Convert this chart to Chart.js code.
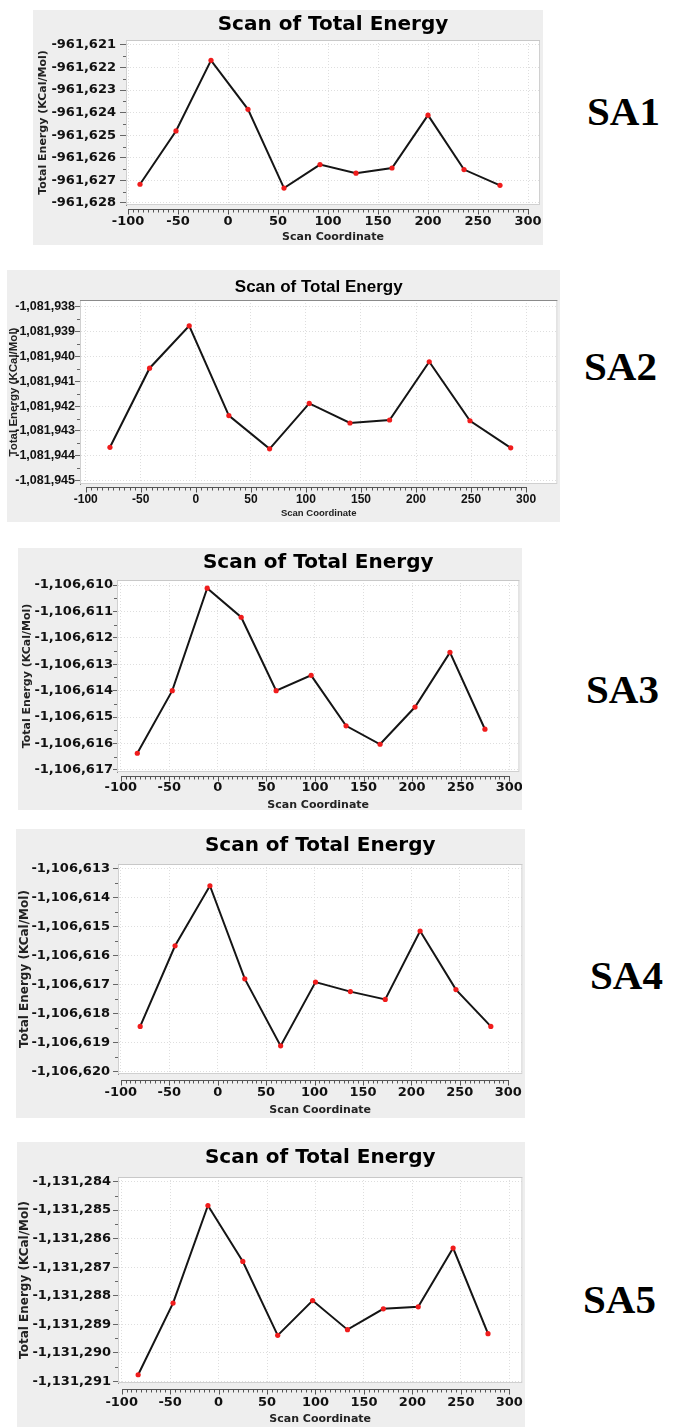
<!DOCTYPE html>
<html>
<head>
<meta charset="utf-8">
<script src="https://cdn.jsdelivr.net/npm/chart.js@4.4.1/dist/chart.umd.min.js"></script>
<style>
  html, body { margin: 0; padding: 0; background: #ffffff; }
  #page { position: relative; width: 681px; height: 1427px; overflow: hidden; background: #ffffff; }
  .panel { position: absolute; background: #eeeeee; }
  .panel canvas { display: block; }
  .tag { position: absolute; font: bold 41px "Liberation Serif", "Times New Roman", serif; line-height: 41px; color: #000; white-space: nowrap; }
</style>
</head>
<body>
<div id="page"></div>
<script>
// ---- Scan data: scan coordinate (deg) and total energy (kcal/mol) per molecule ----
const sa1Scan   = [-88, -52, -17, 20, 56, 92, 128, 164, 200, 236, 272];
const sa1Energy = [-961627.17, -961624.81, -961621.68, -961623.85, -961627.34, -961626.30,
                   -961626.68, -961626.45, -961624.11, -961626.52, -961627.22];

const sa2Scan   = [-78, -42, -6, 30, 67, 103, 140, 176, 212, 249, 286];
const sa2Energy = [-1081943.66, -1081940.47, -1081938.76, -1081942.38, -1081943.72, -1081941.89,
                   -1081942.68, -1081942.56, -1081940.21, -1081942.59, -1081943.68];

const sa3Scan   = [-83, -47, -11, 24, 60, 96, 132, 167, 203, 239, 275];
const sa3Energy = [-1106616.37, -1106614.00, -1106610.12, -1106611.22, -1106614.00, -1106613.42,
                   -1106615.33, -1106616.03, -1106614.62, -1106612.55, -1106615.46];

const sa4Scan   = [-80, -44, -8, 28, 65, 101, 137, 173, 209, 246, 282];
const sa4Energy = [-1106618.45, -1106615.67, -1106613.60, -1106616.81, -1106619.12, -1106616.92,
                   -1106617.25, -1106617.52, -1106615.16, -1106617.18, -1106618.45];

const sa5Scan   = [-83, -47, -11, 25, 61, 97, 133, 170, 206, 242, 278];
const sa5Energy = [-1131290.77, -1131288.26, -1131284.84, -1131286.80, -1131289.39, -1131288.17,
                   -1131289.19, -1131288.46, -1131288.39, -1131286.33, -1131289.33];

// ---- Tick labels ----
const xTickValues = [-100, -50, 0, 50, 100, 150, 200, 250, 300];
const xMinorStep = 5;
const sa1YTicks = [-961628, -961627, -961626, -961625, -961624, -961623, -961622, -961621];
const sa2YTicks = [-1081945, -1081944, -1081943, -1081942, -1081941, -1081940, -1081939, -1081938];
const sa3YTicks = [-1106617, -1106616, -1106615, -1106614, -1106613, -1106612, -1106611, -1106610];
const sa4YTicks = [-1106620, -1106619, -1106618, -1106617, -1106616, -1106615, -1106614, -1106613];
const sa5YTicks = [-1131291, -1131290, -1131289, -1131288, -1131287, -1131286, -1131285, -1131284];

const chartTitle = 'Scan of Total Energy';
const xAxisTitle = 'Scan Coordinate';
const yAxisTitle = 'Total Energy (KCal/Mol)';

// ---- Panel layout (page pixels) ----
const vera = '"DejaVu Sans", Verdana, sans-serif';
const arial = '"Liberation Sans", Arial, sans-serif';
const panels = [
  { tag: 'SA1', scan: sa1Scan, energy: sa1Energy, yTicks: sa1YTicks,
    box: [33, 10, 543, 245], plot: [126, 40, 540, 205], xRange: [-102, 312], yRange: [-961628.09, -961620.78],
    titleY: 25, xLineY: 209, xLabelY: 222, xTitleY: 237, yLabelRight: 116, yTitleX: 43, tickLen: 6,
    tagPos: [587, 91], family: vera, fs: { title: 20, xTick: 13, yTick: 13, xTitle: 11, yTitle: 11 }, topRule: '#c8c8c8' },
  { tag: 'SA2', scan: sa2Scan, energy: sa2Energy, yTicks: sa2YTicks,
    box: [7, 270, 560, 522], plot: [80, 300, 560, 484], xRange: [-105.2, 328.4], yRange: [-1081945.14, -1081937.72],
    titleY: 287, xLineY: 487, xLabelY: 500, xTitleY: 513, yLabelRight: 75, yTitleX: 14, tickLen: 5,
    tagPos: [584, 346], family: arial, fs: { title: 17, xTick: 12, yTick: 12.5, xTitle: 9.5, yTitle: 11.5 }, topRule: '#8a8a8a' },
  { tag: 'SA3', scan: sa3Scan, energy: sa3Energy, yTicks: sa3YTicks,
    box: [18, 548, 522, 810], plot: [117, 580, 520, 772], xRange: [-103.9, 310.5], yRange: [-1106617.08, -1106609.81],
    titleY: 563, xLineY: 776, xLabelY: 788, xTitleY: 805, yLabelRight: 113, yTitleX: 27, tickLen: 4,
    tagPos: [586, 669], family: vera, fs: { title: 20, xTick: 13, yTick: 13, xTitle: 11, yTitle: 11 }, topRule: '#c8c8c8' },
  { tag: 'SA4', scan: sa4Scan, energy: sa4Energy, yTicks: sa4YTicks,
    box: [16, 829, 525, 1118], plot: [118, 864, 525, 1074], xRange: [-102.9, 314.6], yRange: [-1106620.09, -1106612.85],
    titleY: 846, xLineY: 1080, xLabelY: 1093, xTitleY: 1110, yLabelRight: 110, yTitleX: 25, tickLen: 5,
    tagPos: [590, 955], family: vera, fs: { title: 20, xTick: 13, yTick: 13, xTitle: 11, yTitle: 12 }, topRule: '#c8c8c8' },
  { tag: 'SA5', scan: sa5Scan, energy: sa5Energy, yTicks: sa5YTicks,
    box: [17, 1142, 525, 1427], plot: [118, 1177, 525, 1383], xRange: [-103.8, 313.5], yRange: [-1131291.06, -1131283.84],
    titleY: 1158, xLineY: 1389, xLabelY: 1403, xTitleY: 1419, yLabelRight: 111, yTitleX: 25, tickLen: 5,
    tagPos: [583, 1279], family: vera, fs: { title: 20, xTick: 13, yTick: 13, xTitle: 11, yTitle: 12 }, topRule: '#c8c8c8' }
];

// "-961,621" style labels
function withThousands(v) {
  const n = Math.round(Math.abs(v));
  return (v < 0 ? '-' : '') + String(n).replace(/\B(?=(\d{3})+(?!\d))/g, ',');
}

// White plot background, frame, offset x axis with minor ticks, minor y ticks
const plotFrame = {
  id: 'plotFrame',
  beforeDraw(chart, args, opts) {
    const { ctx, chartArea: a } = chart;
    ctx.save();
    ctx.fillStyle = '#ffffff';
    ctx.fillRect(a.left, a.top, a.right - a.left, a.bottom - a.top);
    ctx.restore();
  },
  beforeDatasetsDraw(chart, args, opts) {
    const { ctx, chartArea: a } = chart;
    ctx.save();
    ctx.lineWidth = 1;
    ctx.strokeStyle = '#d0d0d0';
    ctx.strokeRect(a.left + 0.5, a.top + 0.5, a.right - a.left - 1, a.bottom - a.top - 1);
    ctx.strokeStyle = opts.topRule;
    ctx.beginPath();
    ctx.moveTo(a.left, a.top + 0.5);
    ctx.lineTo(a.right, a.top + 0.5);
    ctx.stroke();

    // x axis drawn a few pixels below the plot
    const xs = chart.scales.x;
    const y0 = Math.round(opts.xLineY) + 0.5;
    const first = xTickValues[0], last = xTickValues[xTickValues.length - 1];
    ctx.strokeStyle = '#555555';
    ctx.beginPath();
    ctx.moveTo(Math.round(xs.getPixelForValue(first)), y0);
    ctx.lineTo(Math.round(xs.getPixelForValue(last)) + 1, y0);
    for (let v = first; v <= last; v += xMinorStep) {
      const px = Math.round(xs.getPixelForValue(v)) + 0.5;
      const major = xTickValues.includes(v);
      ctx.moveTo(px, y0);
      ctx.lineTo(px, y0 + (major ? 5 : 3));
    }
    ctx.stroke();

    // half-step minor ticks on the y axis
    const ys = chart.scales.y;
    ctx.strokeStyle = '#666666';
    ctx.beginPath();
    const t = opts.yTicks;
    for (let i = 0; i < t.length - 1; i++) {
      const py = Math.round(ys.getPixelForValue((t[i] + t[i + 1]) / 2)) + 0.5;
      ctx.moveTo(a.left, py);
      ctx.lineTo(a.left - 3, py);
    }
    ctx.stroke();
    ctx.restore();
  }
};

const page = document.getElementById('page');

panels.forEach(p => {
  const [bx, by, bx2, by2] = p.box;
  const W = bx2 - bx, H = by2 - by;
  const wrap = document.createElement('div');
  wrap.className = 'panel';
  Object.assign(wrap.style, { left: bx + 'px', top: by + 'px', width: W + 'px', height: H + 'px' });
  const cv = document.createElement('canvas');
  cv.width = W; cv.height = H;
  cv.style.width = W + 'px'; cv.style.height = H + 'px';
  wrap.appendChild(cv);
  page.appendChild(wrap);

  const tag = document.createElement('div');
  tag.className = 'tag';
  tag.textContent = p.tag;
  tag.style.left = p.tagPos[0] + 'px';
  tag.style.top = p.tagPos[1] + 'px';
  page.appendChild(tag);

  const plotL = p.plot[0] - bx, plotT = p.plot[1] - by, plotR = p.plot[2] - bx, plotB = p.plot[3] - by;
  const fs = p.fs;
  const lh = s => s * 1.2;
  const titleC = p.titleY - by;

  new Chart(cv, {
    type: 'line',
    data: {
      datasets: [{
        data: p.scan.map((x, i) => ({ x: x, y: p.energy[i] })),
        borderColor: '#151515',
        borderWidth: 2,
        tension: 0,
        fill: false,
        pointRadius: 2.6,
        pointHoverRadius: 2.6,
        pointBackgroundColor: '#f01c1c',
        pointBorderWidth: 0
      }]
    },
    options: {
      responsive: false,
      animation: false,
      devicePixelRatio: 1,
      events: [],
      layout: { padding: { left: 0, top: 0, right: W - plotR, bottom: 0 } },
      plugins: {
        legend: { display: false },
        tooltip: { enabled: false },
        title: {
          display: true,
          text: chartTitle,
          fullSize: false,
          color: '#000000',
          font: { family: p.family, size: fs.title, weight: 'bold', lineHeight: 1.2 },
          padding: { top: titleC - lh(fs.title) / 2, bottom: plotT - titleC - lh(fs.title) / 2 }
        },
        plotFrame: { xLineY: p.xLineY - by, yTicks: p.yTicks, topRule: p.topRule }
      },
      scales: {
        x: {
          type: 'linear',
          min: p.xRange[0],
          max: p.xRange[1],
          afterBuildTicks: sc => { sc.ticks = xTickValues.map(v => ({ value: v })); },
          afterFit: sc => { sc.height = H - plotB; sc.paddingLeft = 0; sc.paddingRight = 0; },
          grid: { color: '#dedede', lineWidth: 1, drawTicks: false },
          border: { display: false, dash: [1, 2] },
          ticks: {
            autoSkip: false, maxRotation: 0, color: '#111111',
            font: { family: p.family, size: fs.xTick, weight: 'bold' },
            padding: (p.xLabelY - p.plot[3]) - lh(fs.xTick) / 2,
            callback: v => String(v)
          },
          title: {
            display: true, text: xAxisTitle, color: '#222222',
            font: { family: p.family, size: fs.xTitle, weight: 'bold' },
            padding: { top: 0, bottom: by2 - p.xTitleY - lh(fs.xTitle) / 2 }
          }
        },
        y: {
          type: 'linear',
          min: p.yRange[0],
          max: p.yRange[1],
          afterBuildTicks: sc => { sc.ticks = p.yTicks.map(v => ({ value: v })); },
          afterFit: sc => { sc.width = plotL; sc.paddingTop = 0; sc.paddingBottom = 0; },
          grid: { color: '#dedede', lineWidth: 1, drawTicks: true, tickLength: p.tickLen, tickColor: '#666666' },
          border: { display: true, color: '#888888', width: 1, dash: [1, 2] },
          ticks: {
            autoSkip: false, color: '#111111',
            font: { family: p.family, size: fs.yTick, weight: 'bold' },
            padding: Math.max(0, p.plot[0] - p.tickLen - p.yLabelRight),
            callback: v => withThousands(v)
          },
          title: {
            display: true, text: yAxisTitle, color: '#222222',
            font: { family: p.family, size: fs.yTitle, weight: 'bold' },
            padding: { top: p.yTitleX - bx - lh(fs.yTitle) / 2, bottom: 0 }
          }
        }
      }
    },
    plugins: [plotFrame]
  });
});
</script>
</body>
</html>
